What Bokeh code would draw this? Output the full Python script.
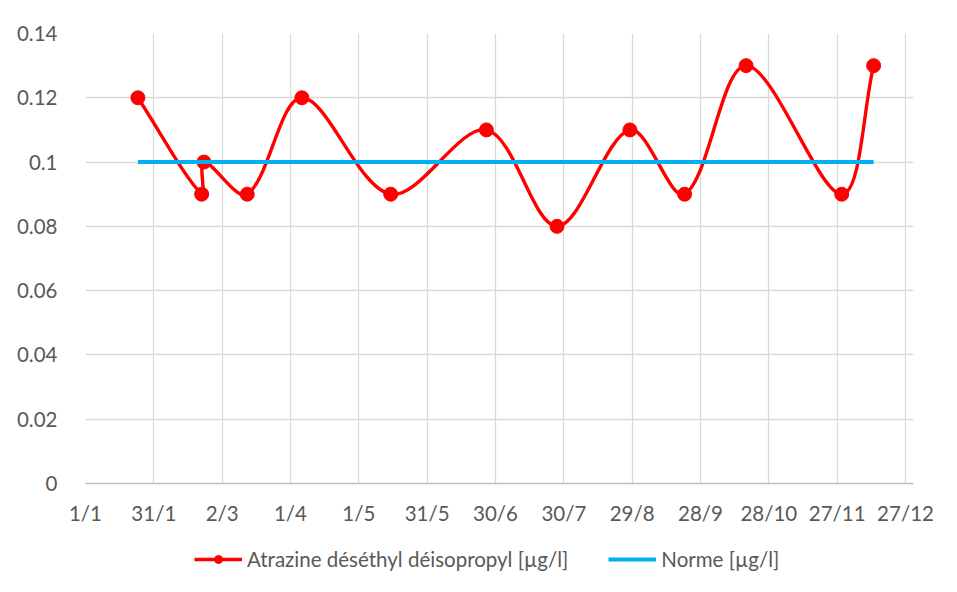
import numpy as np
import pandas as pd
from bokeh.plotting import figure
from bokeh.layouts import column
from bokeh.models import (FixedTicker, DatetimeTickFormatter, NumeralTickFormatter,
                          Legend, LegendItem, Range1d)
from bokeh.embed import file_html
from bokeh.resources import INLINE

# ---- data ----
sample_dates = ["2019-01-24", "2019-02-21", "2019-02-22", "2019-03-13", "2019-04-06",
                "2019-05-15", "2019-06-26", "2019-07-27", "2019-08-28", "2019-09-21",
                "2019-10-18", "2019-11-29", "2019-12-13"]
atrazine = [0.12, 0.09, 0.10, 0.09, 0.12, 0.09, 0.11, 0.08, 0.11, 0.09, 0.13, 0.09, 0.13]
norme = [0.1] * len(sample_dates)
tick_dates = ["2019-01-01", "2019-01-31", "2019-03-02", "2019-04-01", "2019-05-01",
              "2019-05-31", "2019-06-30", "2019-07-30", "2019-08-29", "2019-09-28",
              "2019-10-28", "2019-11-27", "2019-12-27"]
y_ticks = [0, 0.02, 0.04, 0.06, 0.08, 0.10, 0.12, 0.14]
x_start, x_end = "2019-01-01 00:00", "2019-12-30 12:00"
label_a = "Atrazine déséthyl déisopropyl [µg/l]"
label_n = "Norme [µg/l]"

FONT = "Lato"
TXT = "#595959"
FS = "20.5px"
RED = "#ff0000"
BLUE = "#00b0f0"


def to_ms(vals):
    epoch = pd.Timestamp("1970-01-01")
    return np.array([(pd.Timestamp(v) - epoch) / pd.Timedelta(milliseconds=1) for v in vals],
                    dtype=float)


xs = to_ms(sample_dates)
ys = np.array(atrazine, dtype=float)
ticks = [float(t) for t in to_ms(tick_dates)]
x0, x1 = to_ms([x_start, x_end])

# smoothed (Excel-like) curve: bezier control points computed in screen-proportional space
W_FRAME, H_FRAME = 828, 450
sx = W_FRAME / (x1 - x0)
sy = H_FRAME / 0.14
P = np.column_stack([xs * sx, ys * sy])
n = len(P)
c1s, c2s = [], []
for i in range(n - 1):
    p0 = P[max(i - 1, 0)]
    p1 = P[i]
    p2 = P[i + 1]
    p3 = P[min(i + 2, n - 1)]
    d01 = np.linalg.norm(p1 - p0)
    d12 = np.linalg.norm(p2 - p1)
    d23 = np.linalg.norm(p3 - p2)
    f1 = d12 / (d01 + d12) / 3 if d01 + d12 > 0 else 0
    f2 = d12 / (d12 + d23) / 3 if d12 + d23 > 0 else 0
    c1s.append(p1 + (p2 - p0) * f1)
    c2s.append(p2 - (p3 - p1) * f2)
c1s = np.array(c1s)
c2s = np.array(c2s)

p = figure(frame_width=W_FRAME, frame_height=H_FRAME, output_backend="svg", toolbar_location=None,
           x_axis_type="datetime", x_range=Range1d(x0, x1), y_range=Range1d(0, 0.14),
           min_border_left=85, min_border_right=42, min_border_top=33, min_border_bottom=47)
p.outline_line_color = None
p.background_fill_color = "white"
p.border_fill_color = "white"

p.bezier(x0=xs[:-1], y0=ys[:-1], x1=xs[1:], y1=ys[1:],
         cx0=c1s[:, 0] / sx, cy0=c1s[:, 1] / sy,
         cx1=c2s[:, 0] / sx, cy1=c2s[:, 1] / sy,
         line_color=RED, line_width=3.4)
p.scatter(xs, ys, size=14, marker="circle", fill_color=RED, line_color=RED)
p.line(xs, norme, line_color=BLUE, line_width=4)

p.xaxis.ticker = FixedTicker(ticks=ticks)
fmt = "%-d/%-m"
p.xaxis.formatter = DatetimeTickFormatter(days=fmt, months=fmt, years=fmt, hours=fmt,
                                          minutes=fmt, seconds=fmt, milliseconds=fmt,
                                          microseconds=fmt, minsec=fmt, hourmin=fmt)
p.yaxis.ticker = FixedTicker(ticks=y_ticks)
p.yaxis.formatter = NumeralTickFormatter(format="0.[00]")

for ax in (p.xaxis, p.yaxis):
    ax.major_tick_line_color = None
    ax.minor_tick_line_color = None
    ax.major_label_text_font = FONT
    ax.major_label_text_font_size = FS
    ax.major_label_text_color = TXT
p.xaxis.axis_line_color = "#bfbfbf"
p.xaxis.axis_line_width = 1.5
p.yaxis.axis_line_color = None
p.xaxis.major_label_standoff = 11
p.yaxis.major_label_standoff = 22

p.xgrid.grid_line_color = "#d9d9d9"
p.ygrid.grid_line_color = "#d9d9d9"
p.xgrid.grid_line_width = 1.3
p.ygrid.grid_line_width = 1.3

# ---- legend strip (own small figure; its series lie outside its view) ----
q = figure(width=955, height=62, output_backend="svg", toolbar_location=None,
           x_range=Range1d(0, 1), y_range=Range1d(0, 1),
           min_border=0, x_axis_type=None, y_axis_type=None)
q.outline_line_color = None
q.grid.visible = False
q.background_fill_color = "white"
q.border_fill_color = "white"
lr = q.line(xs, atrazine, line_color=RED, line_width=3.4)
lc = q.scatter(xs, atrazine, size=14, marker="circle", fill_color=RED, line_color=RED)
ln = q.line(xs, norme, line_color=BLUE, line_width=4)
legend = Legend(items=[LegendItem(label=label_a, renderers=[lr, lc]),
                       LegendItem(label=label_n, renderers=[ln])],
                orientation="horizontal", location=(109, 21),
                border_line_color=None, background_fill_alpha=0,
                label_text_font=FONT, label_text_font_size=FS, label_text_color=TXT,
                glyph_width=48, glyph_height=20, spacing=40, label_standoff=5,
                margin=0, padding=4)
q.add_layout(legend, "center")

layout = column(p, q, spacing=0)
open("out.html", "w").write(file_html(layout, INLINE))
